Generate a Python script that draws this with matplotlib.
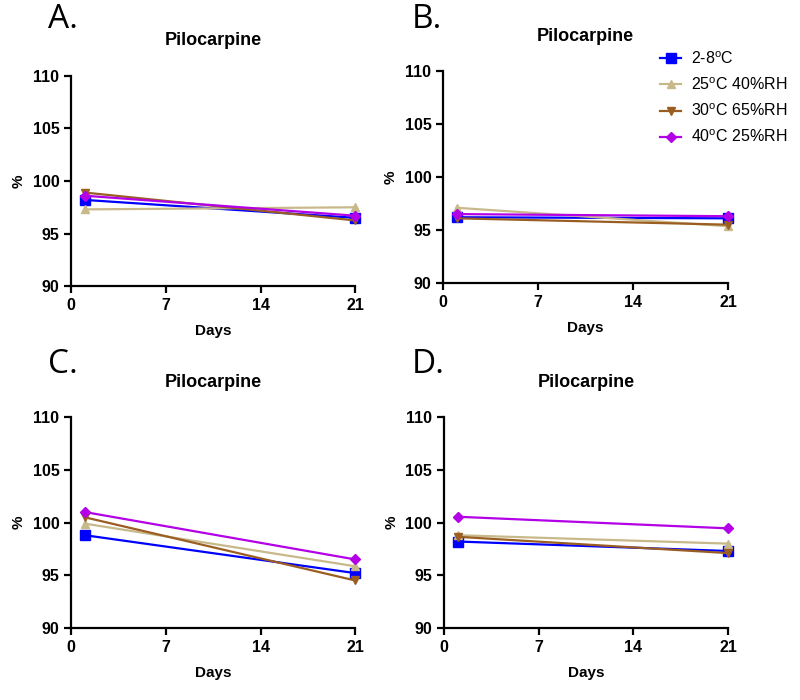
import matplotlib
matplotlib.use("Agg")
import matplotlib.pyplot as plt

plt.rcParams['font.family'] = ['Liberation Sans', 'DejaVu Sans']

days = [1, 21]
labels = ['2-8$^{\\mathregular{o}}$C', '25$^{\\mathregular{o}}$C 40%RH',
          '30$^{\\mathregular{o}}$C 65%RH', '40$^{\\mathregular{o}}$C 25%RH']
colors = ['#0000ff', '#c8b98a', '#9b5e22', '#b300e6']
markers = ['s', '^', 'v', 'D']
msizes = [6.5, 6, 6, 5]

# % remaining, one list per condition: [day 1, day 21]
panel_a = [[98.2, 96.5], [97.3, 97.5], [98.9, 96.25], [98.6, 96.7]]
panel_b = [[96.2, 96.1], [97.1, 95.35], [96.1, 95.5], [96.5, 96.3]]
panel_c = [[98.8, 95.2], [99.9, 95.85], [100.5, 94.5], [101.0, 96.5]]
panel_d = [[98.2, 97.3], [98.8, 98.0], [98.65, 97.1], [100.55, 99.45]]

panels = [('A.', panel_a, [0.089, 0.591, 0.355, 0.301], (0.060, 0.995)),
          ('B.', panel_b, [0.554, 0.596, 0.356, 0.302], (0.515, 0.995)),
          ('C.', panel_c, [0.089, 0.103, 0.355, 0.301], (0.060, 0.503)),
          ('D.', panel_d, [0.555, 0.103, 0.355, 0.301], (0.515, 0.503))]

fig = plt.figure(figsize=(8, 7), dpi=100)

for letter, data, rect, pos in panels:
    ax = fig.add_axes(rect)
    for vals, c, m, ms, lab in zip(data, colors, markers, msizes, labels):
        ax.plot(days, vals, color=c, marker=m, markersize=ms, linewidth=1.6,
                label=lab, clip_on=False, zorder=3)
    ax.set_xlim(0, 21)
    ax.set_ylim(90, 110)
    ax.set_xticks([0, 7, 14, 21])
    ax.set_yticks([90, 95, 100, 105, 110])
    for s in ['top', 'right']:
        ax.spines[s].set_visible(False)
    for s in ['left', 'bottom']:
        ax.spines[s].set_linewidth(1.6)
    ax.tick_params(direction='out', length=5, width=1.6, labelsize=11.5)
    for t in ax.get_xticklabels() + ax.get_yticklabels():
        t.set_fontweight('bold')
    ax.set_xlabel('Days', fontsize=11, fontweight='bold', labelpad=8)
    ax.set_ylabel('%', fontsize=11, fontweight='bold', labelpad=5)
    ax.set_title('Pilocarpine', fontsize=13, fontweight='bold', pad=22)
    fig.text(pos[0], pos[1], letter, fontsize=24, family=['Open Sans', 'DejaVu Sans'],
             va='top', ha='left')
    if letter == 'B.':
        ax.legend(loc='upper left', bbox_to_anchor=(0.74, 1.13), frameon=False,
                  fontsize=11.5, handlelength=1.3, handletextpad=0.6,
                  labelspacing=0.6, borderaxespad=0)

fig.savefig('out.png', dpi=100)
